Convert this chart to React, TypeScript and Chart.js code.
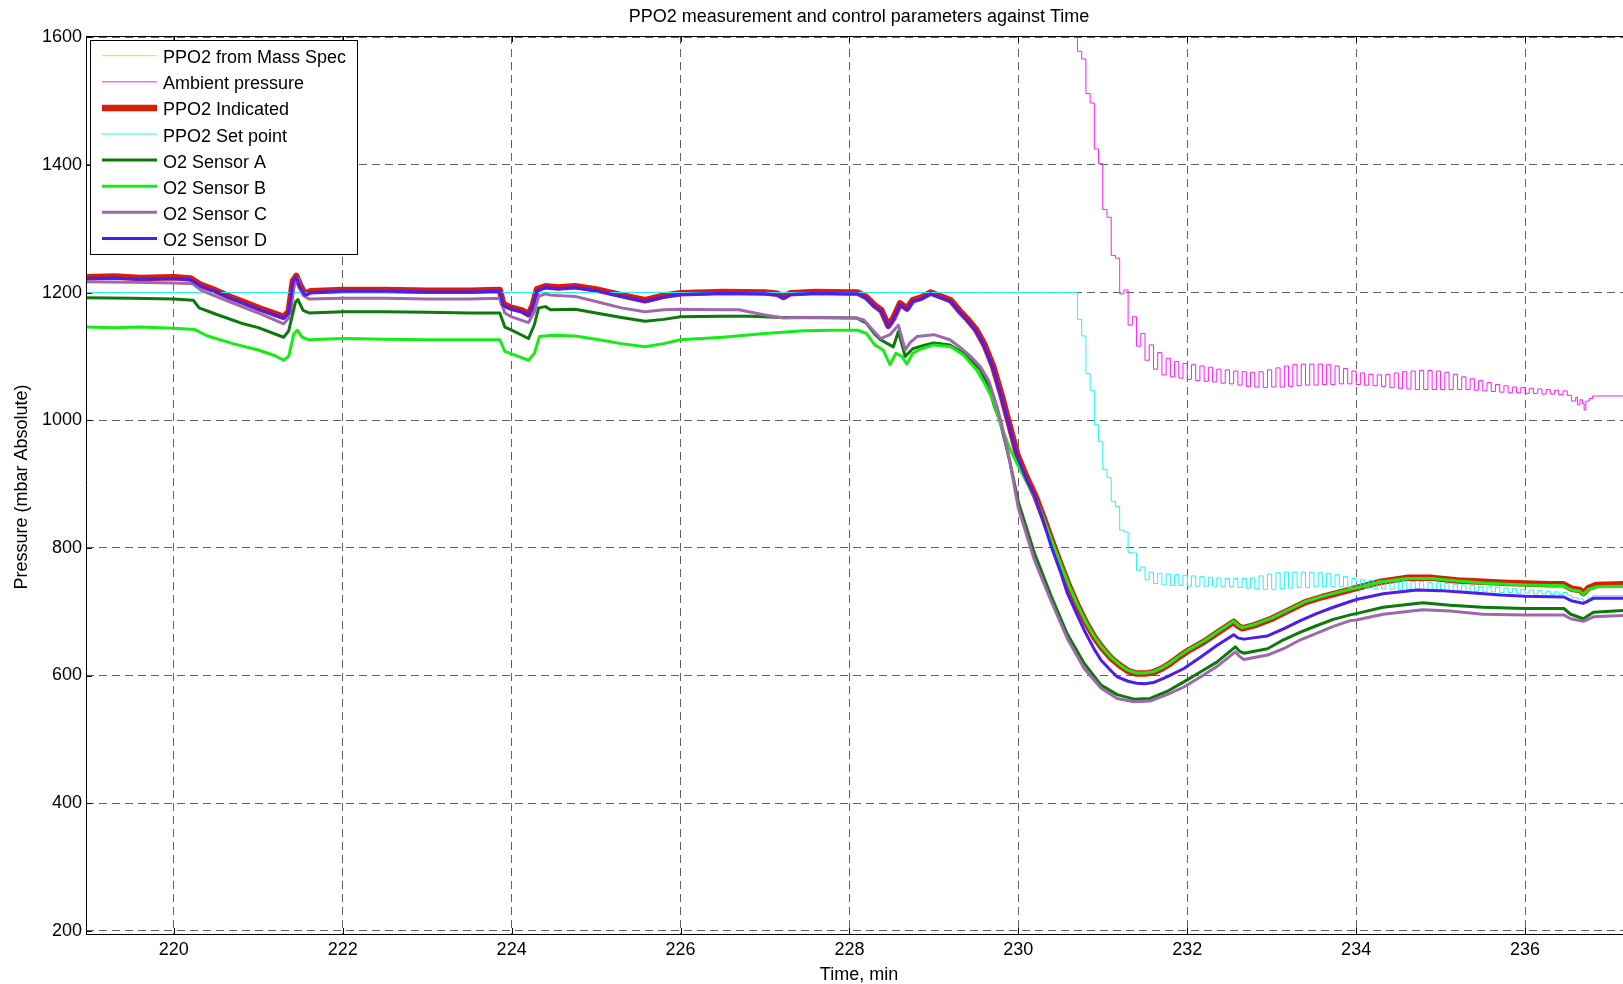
import React, { useEffect, useRef } from 'react';
import { Chart, registerables } from 'chart.js';

Chart.register(...registerables);

const FONT_FAMILY = '"Liberation Sans", Arial, Helvetica, sans-serif';

const chartTitle = 'PPO2 measurement and control parameters against Time';
const xAxisTitle = 'Time, min';
const yAxisTitle = 'Pressure (mbar Absolute)';
const xTickValues = [220, 222, 224, 226, 228, 230, 232, 234, 236];
const yTickValues = [200, 400, 600, 800, 1000, 1200, 1400, 1600];

const seriesLabels = [
  'PPO2 from Mass Spec',
  'Ambient pressure',
  'PPO2 Indicated',
  'PPO2 Set point',
  'O2 Sensor A',
  'O2 Sensor B',
  'O2 Sensor C',
  'O2 Sensor D',
];

// PPO2 from Mass Spec: no samples inside the plotted window
const massSpecTimes: number[] = [];
const massSpecValues: number[] = [];

// shared edge times of the oscillating ambient / set point traces
const oscTimes = [
  230.65, 230.70, 230.75, 230.80, 230.85, 230.90, 230.95, 231.00, 231.05, 231.10,
  231.15, 231.20, 231.25, 231.30, 231.35, 231.40, 231.45, 231.50, 231.55, 231.60,
  231.65, 231.70, 231.75, 231.80, 231.85, 231.90, 231.95, 232.00, 232.05, 232.10,
  232.15, 232.20, 232.25, 232.30, 232.35, 232.40, 232.45, 232.50, 232.55, 232.60,
  232.65, 232.70, 232.75, 232.80, 232.85, 232.90, 232.95, 233.00, 233.05, 233.10,
  233.15, 233.20, 233.25, 233.30, 233.35, 233.40, 233.45, 233.50, 233.55, 233.60,
  233.65, 233.70, 233.75, 233.80, 233.85, 233.90, 233.95, 234.00, 234.05, 234.10,
  234.15, 234.20, 234.25, 234.30, 234.35, 234.40, 234.45, 234.50, 234.55, 234.60,
  234.65, 234.70, 234.75, 234.80, 234.85, 234.90, 234.95, 235.00, 235.05, 235.10,
  235.15, 235.20, 235.25, 235.30, 235.35, 235.40, 235.45, 235.50, 235.55, 235.60,
  235.65, 235.70, 235.75, 235.80, 235.85, 235.90, 235.95, 236.00, 236.05, 236.10,
  236.15, 236.20, 236.25, 236.30, 236.35, 236.40, 236.45, 236.50, 236.55,
];

const ambientValues = [
  1700, 1578, 1566, 1512, 1497, 1425, 1402, 1330, 1318, 1258,
  1254, 1198, 1204, 1149, 1162, 1116, 1136, 1094, 1118, 1080,
  1106, 1071, 1097, 1068, 1092, 1066, 1089, 1064, 1087, 1062,
  1085, 1061, 1083, 1060, 1080, 1058, 1079, 1057, 1077, 1055,
  1076, 1053, 1075, 1052, 1076, 1051, 1079, 1052, 1082, 1052,
  1085, 1053, 1087, 1054, 1088, 1055, 1088, 1055, 1088, 1056,
  1087, 1056, 1085, 1057, 1081, 1057, 1077, 1056, 1074, 1055,
  1072, 1054, 1071, 1053, 1072, 1051, 1074, 1050, 1076, 1049,
  1077, 1048, 1078, 1048, 1078, 1048, 1077, 1048, 1075, 1048,
  1072, 1048, 1068, 1048, 1065, 1047, 1062, 1046, 1059, 1045,
  1056, 1044, 1054, 1043, 1052, 1043, 1051, 1042, 1050, 1042,
  1049, 1041, 1048, 1041, 1047, 1040, 1046, 1039, 1030,
];
const ambientTailTimes = [236.60, 236.62, 236.65, 236.68, 236.70, 236.72, 236.76, 236.80, 236.85, 237.20];
const ambientTailValues = [1036, 1024, 1032, 1026, 1016, 1030, 1034, 1038, 1038, 1038];

const setpointHeadTimes = [218.96];
const setpointHeadValues = [1200];
const setpointValues = [
  1200, 1158, 1132, 1073, 1047, 993, 967, 923, 910, 873,
  865, 828, 825, 793, 792, 765, 770, 750, 762, 744,
  760, 742, 759, 741, 758, 741, 757, 740, 756, 740,
  755, 740, 754, 740, 753, 739, 752, 739, 752, 738,
  752, 737, 753, 736, 756, 735, 759, 735, 761, 736,
  762, 737, 762, 738, 762, 738, 762, 739, 761, 739,
  760, 739, 758, 739, 755, 738, 752, 737, 750, 737,
  749, 736, 748, 736, 748, 735, 748, 735, 748, 735,
  747, 735, 747, 734, 746, 734, 745, 734, 744, 733,
  743, 733, 742, 732, 741, 732, 740, 731, 739, 731,
  738, 730, 737, 730, 736, 729, 735, 729, 734, 728,
  733, 728, 732, 727, 731, 727, 730, 726, 722,
];
const setpointTailTimes = [236.62, 236.69, 236.75, 236.80, 236.90, 237.20];
const setpointTailValues = [720, 714, 722, 725, 725, 726];

const indicatedTimes = [
  218.96, 219.3, 219.6, 220.0, 220.2, 220.32, 220.5, 220.67, 220.85, 221.02,
  221.15, 221.3, 221.36, 221.41, 221.45, 221.5, 221.55, 221.62, 222.0, 222.5,
  223.0, 223.5, 223.86, 223.9, 224.0, 224.12, 224.2, 224.25, 224.3, 224.4,
  224.55, 224.75, 225.0, 225.3, 225.58, 225.8, 226.0, 226.5, 227.0, 227.15,
  227.22, 227.3, 227.6, 228.0, 228.1, 228.2, 228.3, 228.38, 228.46, 228.52,
  228.6, 228.68, 228.75, 228.85, 228.96, 229.1, 229.2, 229.3, 229.4, 229.5,
  229.6, 229.7, 229.8, 229.88, 229.99, 230.1, 230.2, 230.3, 230.4, 230.5,
  230.6, 230.7, 230.8, 230.9, 231.0, 231.1, 231.2, 231.3, 231.4, 231.5,
  231.6, 231.7, 231.8, 231.9, 232.0, 232.2, 232.4, 232.55, 232.6, 232.65,
  232.8, 233.0, 233.2, 233.4, 233.6, 233.8, 234.0, 234.3, 234.6, 234.9,
  235.2, 235.5, 235.8, 236.0, 236.3, 236.45, 236.55, 236.65, 236.69, 236.75,
  236.85, 237.2,
];
const indicatedValues = [
  1224, 1225, 1223, 1224, 1222, 1212, 1203, 1193, 1184, 1175,
  1169, 1162, 1170, 1218, 1226, 1210, 1198, 1202, 1204, 1204,
  1203, 1203, 1204, 1182, 1176, 1172, 1166, 1180, 1205, 1210,
  1208, 1210, 1205, 1196, 1188, 1195, 1199, 1201, 1200, 1198,
  1193, 1199, 1201, 1200, 1200, 1193, 1180, 1172, 1148, 1160,
  1183, 1175, 1188, 1192, 1200, 1193, 1188, 1172, 1158, 1142,
  1118, 1085, 1040, 1000, 945, 910, 882, 847, 810, 774,
  740, 710, 683, 660, 642, 627, 616, 607, 603, 603,
  605, 611, 619, 629, 638, 653, 671, 684, 678, 674,
  679, 689, 702, 715, 723, 730, 737, 747, 753, 753,
  749, 747, 745, 744, 743, 743, 736, 734, 729, 737,
  742, 743,
];

const sensorATimes = [
  218.96, 219.5, 220.0, 220.23, 220.3, 220.5, 220.8, 221.0, 221.3, 221.36,
  221.44, 221.47, 221.53, 221.6, 222.0, 222.5, 223.0, 223.5, 223.86, 223.92,
  224.0, 224.2, 224.27, 224.32, 224.4, 224.46, 224.75, 225.0, 225.3, 225.58,
  225.8, 226.0, 226.5, 226.83, 227.2, 227.6, 228.09, 228.2, 228.3, 228.37,
  228.45, 228.52, 228.58, 228.66, 228.75, 228.9, 229.0, 229.19, 229.35, 229.45,
  229.55, 229.65, 229.72, 229.78, 229.9, 230.0, 230.19, 230.39, 230.58, 230.78,
  230.98, 231.17, 231.37, 231.56, 231.76, 231.96, 232.16, 232.35, 232.57, 232.62,
  232.67, 232.95, 233.14, 233.34, 233.53, 233.73, 233.93, 234.0, 234.32, 234.79,
  235.11, 235.5, 236.0, 236.46, 236.54, 236.69, 236.81, 237.16,
];
const sensorAValues = [
  1192, 1191, 1190, 1188, 1176, 1166, 1152, 1145, 1130, 1140,
  1185, 1189, 1172, 1168, 1170, 1170, 1169, 1168, 1168, 1146,
  1141, 1128, 1150, 1176, 1178, 1173, 1174, 1168, 1161, 1155,
  1158, 1162, 1163, 1163, 1161, 1161, 1160, 1152, 1135, 1126,
  1120, 1115, 1139, 1100, 1112, 1118, 1121, 1118, 1105, 1092,
  1079, 1052, 1020, 1000, 935, 872, 792, 724, 665, 619,
  585, 570, 563, 564, 575, 590, 606, 621, 645, 638,
  635, 642, 656, 668, 678, 688, 695, 697, 707, 714,
  710, 707, 705, 705, 696, 689, 699, 702,
];

const sensorBTimes = [
  218.96, 219.3, 219.6, 220.0, 220.25, 220.4, 220.7, 221.0, 221.2, 221.3,
  221.36, 221.42, 221.46, 221.52, 221.6, 222.0, 222.5, 223.0, 223.5, 223.86,
  223.92, 224.0, 224.2, 224.27, 224.33, 224.5, 224.75, 225.0, 225.3, 225.58,
  225.8, 226.0, 226.5, 227.0, 227.46, 227.8, 228.1, 228.2, 228.3, 228.4,
  228.48, 228.55, 228.62, 228.68, 228.75, 228.85, 229.0, 229.2, 229.35, 229.5,
  229.6, 229.7, 229.8, 229.9, 230.0, 230.1, 230.2, 230.3, 230.4, 230.5,
  230.6, 230.7, 230.8, 230.9, 231.0, 231.1, 231.2, 231.3, 231.4, 231.5,
  231.6, 231.7, 231.8, 231.9, 232.0, 232.2, 232.4, 232.55, 232.6, 232.65,
  232.8, 233.0, 233.2, 233.4, 233.6, 233.8, 234.0, 234.3, 234.6, 234.9,
  235.2, 235.5, 235.8, 236.0, 236.3, 236.45, 236.55, 236.65, 236.69, 236.75,
  236.85, 237.2,
];
const sensorBValues = [
  1146, 1145, 1146, 1144, 1142, 1132, 1120, 1110, 1101, 1094,
  1100, 1135, 1141, 1130, 1126, 1128, 1127, 1126, 1126, 1126,
  1108, 1104, 1094, 1105, 1131, 1133, 1132, 1127, 1120, 1115,
  1120, 1126, 1130, 1136, 1140, 1141, 1141, 1136, 1118, 1110,
  1087, 1105, 1100, 1088, 1105, 1112, 1118, 1115, 1102, 1080,
  1058, 1032, 990, 955, 928, 903, 879, 846, 810, 775,
  741, 711, 684, 661, 643, 628, 617, 608, 604, 604,
  606, 612, 620, 630, 639, 654, 672, 685, 679, 675,
  680, 690, 703, 716, 724, 731, 737, 747, 752, 752,
  748, 745, 743, 742, 741, 741, 734, 732, 727, 735,
  739, 740,
];

const sensorCTimes = [
  218.96, 219.5, 220.0, 220.22, 220.32, 220.5, 220.67, 221.0, 221.3, 221.36,
  221.43, 221.47, 221.53, 221.6, 222.0, 222.5, 223.0, 223.5, 223.86, 223.92,
  224.0, 224.2, 224.27, 224.32, 224.4, 224.46, 224.75, 225.0, 225.3, 225.58,
  225.8, 226.0, 226.5, 226.69, 227.0, 227.22, 227.5, 228.0, 228.09, 228.17,
  228.3, 228.37, 228.48, 228.58, 228.66, 228.72, 228.8, 229.0, 229.19, 229.35,
  229.45, 229.55, 229.65, 229.75, 229.8, 229.9, 230.0, 230.19, 230.39, 230.58,
  230.78, 230.98, 231.17, 231.37, 231.56, 231.76, 231.96, 232.16, 232.35, 232.57,
  232.62, 232.67, 232.95, 233.14, 233.34, 233.53, 233.73, 233.93, 234.0, 234.32,
  234.79, 235.11, 235.5, 236.0, 236.46, 236.54, 236.69, 236.81, 237.16,
];
const sensorCValues = [
  1217, 1216, 1215, 1214, 1204, 1194, 1185, 1168, 1151, 1160,
  1215, 1222, 1196, 1190, 1191, 1191, 1190, 1190, 1191, 1168,
  1162, 1153, 1170, 1194, 1198, 1196, 1194, 1186, 1176, 1170,
  1173, 1174, 1173, 1173, 1165, 1160, 1161, 1160, 1160, 1157,
  1138, 1128, 1134, 1149, 1110, 1122, 1131, 1134, 1126, 1110,
  1098, 1084, 1062, 1020, 995, 935, 862, 781, 716, 658,
  611, 580, 564, 559, 560, 570, 582, 598, 614, 637,
  630, 625, 632, 642, 656, 666, 677, 686, 687, 696,
  703, 701, 696, 695, 695, 689, 685, 692, 694,
];

const sensorDTimes = [
  218.96, 219.3, 219.6, 220.0, 220.2, 220.32, 220.5, 220.67, 220.85, 221.02,
  221.15, 221.3, 221.36, 221.41, 221.45, 221.5, 221.55, 221.62, 222.0, 222.5,
  223.0, 223.5, 223.86, 223.9, 224.0, 224.12, 224.2, 224.25, 224.3, 224.4,
  224.55, 224.75, 225.0, 225.3, 225.58, 225.8, 226.0, 226.5, 227.0, 227.15,
  227.22, 227.3, 227.6, 228.0, 228.1, 228.2, 228.3, 228.38, 228.46, 228.52,
  228.6, 228.68, 228.75, 228.85, 228.96, 229.1, 229.2, 229.3, 229.4, 229.5,
  229.6, 229.7, 229.8, 229.88, 229.99, 230.1, 230.2, 230.3, 230.39, 230.5,
  230.58, 230.7, 230.78, 230.9, 230.98, 231.1, 231.17, 231.3, 231.4, 231.5,
  231.6, 231.76, 231.96, 232.16, 232.35, 232.55, 232.6, 232.67, 232.95, 233.14,
  233.34, 233.53, 233.73, 233.93, 234.0, 234.32, 234.72, 235.0, 235.31, 235.71,
  236.0, 236.46, 236.55, 236.69, 236.81, 237.16,
];
const sensorDValues = [
  1222, 1223, 1221, 1222, 1220, 1210, 1201, 1191, 1182, 1173,
  1167, 1160, 1168, 1216, 1224, 1208, 1196, 1200, 1202, 1202,
  1201, 1201, 1202, 1180, 1174, 1170, 1164, 1178, 1203, 1208,
  1206, 1208, 1203, 1194, 1186, 1193, 1197, 1199, 1198, 1196,
  1191, 1197, 1199, 1198, 1198, 1191, 1178, 1170, 1146, 1158,
  1181, 1173, 1186, 1190, 1198, 1191, 1186, 1170, 1156, 1140,
  1115, 1082, 1036, 996, 942, 906, 880, 840, 802, 762,
  729, 694, 671, 641, 624, 607, 598, 591, 588, 587,
  589, 598, 611, 629, 647, 664, 659, 657, 662, 673,
  686, 697, 707, 716, 719, 728, 734, 733, 730, 726,
  724, 723, 717, 713, 721, 721,
];

const pts = (times: number[], values: number[]) => times.map((x, i) => ({ x, y: values[i] }));

const decorPlugin = {
  id: 'decor',
  afterDraw(chart: any) {
    const { ctx, chartArea: a, scales } = chart;
    ctx.save();
    ctx.setLineDash([]);
    ctx.strokeStyle = '#000';
    ctx.lineWidth = 1;
    ctx.beginPath();
    ctx.moveTo(a.left + 0.5, a.top);
    ctx.lineTo(a.left + 0.5, a.bottom + 1);
    ctx.moveTo(a.left, a.bottom + 0.5);
    ctx.lineTo(a.right, a.bottom + 0.5);
    ctx.moveTo(a.left, a.top + 0.5);
    ctx.lineTo(a.right, a.top + 0.5);
    for (const v of xTickValues) {
      const px = Math.round(scales.x.getPixelForValue(v)) + 0.5;
      ctx.moveTo(px, a.bottom);
      ctx.lineTo(px, a.bottom - 6);
      ctx.moveTo(px, a.top);
      ctx.lineTo(px, a.top + 6);
    }
    for (const v of yTickValues) {
      const py = Math.round(scales.y.getPixelForValue(v)) + 0.5;
      ctx.moveTo(a.left, py);
      ctx.lineTo(a.left + 6, py);
    }
    ctx.stroke();

    ctx.fillStyle = '#000';
    ctx.font = `18px ${FONT_FAMILY}`;
    ctx.textAlign = 'center';
    ctx.textBaseline = 'alphabetic';
    ctx.fillText(chartTitle, 859, 22);
    ctx.fillText(xAxisTitle, 859, 980);
    ctx.save();
    ctx.translate(27, 487);
    ctx.rotate(-Math.PI / 2);
    ctx.fillText(yAxisTitle, 0, 0);
    ctx.restore();

    // legend
    const lx = 90.5, ly = 40.5, lw = 267, lh = 214;
    ctx.fillStyle = '#fff';
    ctx.fillRect(lx, ly, lw, lh);
    ctx.strokeStyle = '#000';
    ctx.lineWidth = 1;
    ctx.strokeRect(lx, ly, lw, lh);
    ctx.textAlign = 'left';
    chart.data.datasets.forEach((ds: any, i: number) => {
      const rowY = 55.7 + i * 26.1;
      ctx.beginPath();
      ctx.strokeStyle = ds.borderColor;
      ctx.lineWidth = ds.borderWidth;
      ctx.moveTo(102, rowY);
      ctx.lineTo(157, rowY);
      ctx.stroke();
      ctx.fillStyle = '#000';
      ctx.fillText(ds.label, 163, rowY + 7.5);
    });
    ctx.restore();
  },
};

export default function App() {
  const canvasRef = useRef<HTMLCanvasElement | null>(null);

  useEffect(() => {
    document.body.style.margin = '0';
    const canvas = canvasRef.current;
    if (!canvas) return;

    const ambientPoints = [...pts(oscTimes, ambientValues), ...pts(ambientTailTimes, ambientTailValues)];
    const setpointPoints = [
      ...pts(setpointHeadTimes, setpointHeadValues),
      ...pts(oscTimes, setpointValues),
      ...pts(setpointTailTimes, setpointTailValues),
    ];

    const tickFont = { family: FONT_FAMILY, size: 18 };

    const chart = new Chart(canvas, {
      type: 'line',
      data: {
        datasets: [
          { label: seriesLabels[0], data: pts(massSpecTimes, massSpecValues), borderColor: '#ecdc3c', borderWidth: 1, order: 7 },
          { label: seriesLabels[1], data: ambientPoints, borderColor: '#ff1cff', borderWidth: 1, stepped: true, order: 6 },
          { label: seriesLabels[2], data: pts(indicatedTimes, indicatedValues), borderColor: '#d81e08', borderWidth: 6.5, borderJoinStyle: 'round', borderCapStyle: 'round', order: 5 },
          { label: seriesLabels[3], data: setpointPoints, borderColor: '#22f6f6', borderWidth: 1, stepped: true, order: 4 },
          { label: seriesLabels[4], data: pts(sensorATimes, sensorAValues), borderColor: '#0b7a0b', borderWidth: 3, borderJoinStyle: 'round', order: 3 },
          { label: seriesLabels[5], data: pts(sensorBTimes, sensorBValues), borderColor: '#14ee14', borderWidth: 3, borderJoinStyle: 'round', order: 2 },
          { label: seriesLabels[6], data: pts(sensorCTimes, sensorCValues), borderColor: '#a068ac', borderWidth: 3, borderJoinStyle: 'round', order: 1 },
          { label: seriesLabels[7], data: pts(sensorDTimes, sensorDValues), borderColor: '#4c1cf2', borderWidth: 3, borderJoinStyle: 'round', order: 0 },
        ],
      } as any,
      options: {
        responsive: false,
        animation: false,
        devicePixelRatio: 1,
        events: [],
        layout: { padding: { top: 36, left: 0, right: 0, bottom: 0 } },
        elements: {
          point: { radius: 0, hoverRadius: 0 },
          line: { tension: 0, fill: false },
        },
        plugins: {
          legend: { display: false },
          title: { display: false },
          tooltip: { enabled: false },
        },
        scales: {
          x: {
            type: 'linear',
            min: 218.96,
            max: 237.16,
            z: 1,
            afterFit: (s: any) => { s.height = 50; },
            afterBuildTicks: (s: any) => { s.ticks = xTickValues.map((v) => ({ value: v })); },
            grid: { color: 'rgba(0,0,0,0.62)', lineWidth: 1, drawTicks: false },
            border: { display: false, dash: [8, 5] },
            ticks: {
              font: tickFont,
              color: '#000',
              padding: 5,
              maxRotation: 0,
              autoSkip: false,
              callback: (v: any) => String(v),
            },
          },
          y: {
            type: 'linear',
            min: 195,
            max: 1602,
            z: 1,
            afterFit: (s: any) => { s.width = 86; },
            afterBuildTicks: (s: any) => { s.ticks = yTickValues.map((v) => ({ value: v })); },
            grid: { color: 'rgba(0,0,0,0.62)', lineWidth: 1, drawTicks: false },
            border: { display: false, dash: [8, 5] },
            ticks: {
              font: tickFont,
              color: '#000',
              padding: 4,
              autoSkip: false,
              callback: (v: any) => String(v),
            },
          },
        },
      } as any,
      plugins: [decorPlugin],
    });

    return () => chart.destroy();
  }, []);

  return (
    <canvas
      ref={canvasRef}
      width={1623}
      height={984}
      style={{ display: 'block', width: '1623px', height: '984px' }}
    />
  );
}
